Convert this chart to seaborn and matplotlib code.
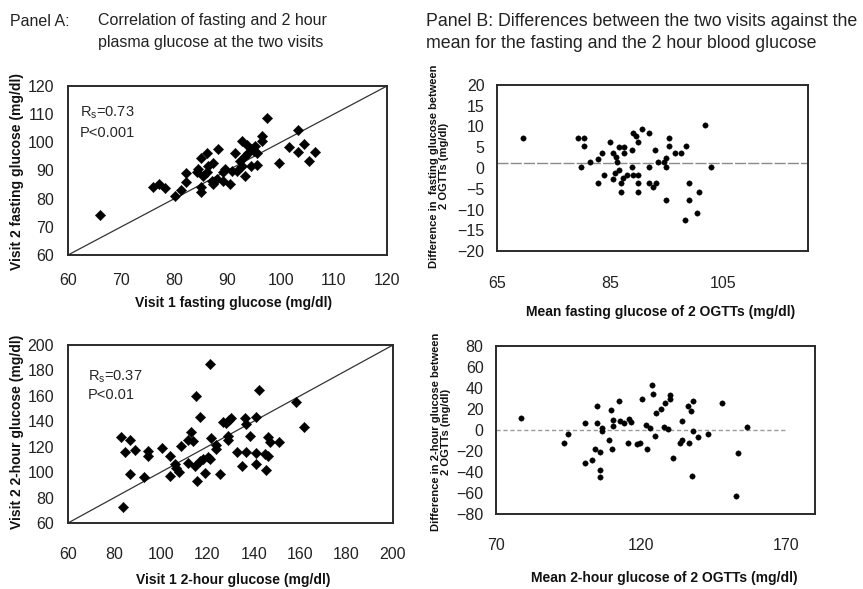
import matplotlib
matplotlib.use("Agg")
import matplotlib.pyplot as plt
import seaborn as sns
import pandas as pd

# Panel A (top): fasting glucose, visit 1 vs visit 2
visit1_fasting = [66.0, 76.0, 77.1, 78.2, 80.1, 81.2, 82.2, 82.2, 84.2, 84.5, 85.1, 85.1, 85.1,
                  86.1, 86.1, 85.4, 87.3, 87.0, 87.3, 88.3, 89.2, 89.2, 89.5, 90.5, 90.8, 91.4,
                  91.7, 92.3, 92.7, 93.3, 93.3, 93.6, 93.9, 94.5, 95.2, 95.5, 94.5, 95.5, 96.4,
                  96.4, 97.4, 99.6, 101.5, 103.3, 103.3, 104.4, 105.4, 106.5, 86.4, 88.0, 92.7, 94.9]
visit2_fasting = [74.1, 84.0, 85.2, 83.8, 81.1, 83.2, 85.8, 89.1, 89.3, 90.7, 82.3, 84.0, 94.6,
                  96.3, 89.3, 88.1, 92.8, 86.4, 85.2, 97.5, 86.4, 89.3, 90.5, 85.2, 89.9, 96.3,
                  89.9, 93.4, 100.4, 88.1, 95.2, 98.9, 96.3, 97.5, 98.7, 96.1, 91.7, 91.9, 102.2,
                  100.4, 108.7, 92.6, 98.5, 104.5, 96.6, 99.3, 93.4, 96.6, 91.7, 87.0, 91.7, 96.9]

# Panel A (bottom): 2-hour glucose, visit 1 vs visit 2
visit1_2hr = [82.7, 86.6, 84.7, 88.7, 86.6, 83.7, 92.6, 94.5, 94.5, 100.6, 103.8, 103.8, 106.0,
              106.7, 107.7, 108.8, 111.7, 113.1, 113.8, 111.7, 115.0, 114.6, 115.6, 116.7, 117.0,
              118.2, 120.3, 121.0, 121.3, 118.9, 121.7, 123.6, 123.9, 125.6, 126.8, 128.2, 129.2,
              130.4, 128.9, 128.9, 132.9, 134.9, 136.1, 136.8, 136.8, 138.3, 141.1, 141.1, 141.1,
              142.3, 144.7, 145.2, 146.2, 146.2, 147.2, 150.9, 158.4, 161.5]
visit2_2hr = [127.9, 125.2, 115.5, 117.3, 98.8, 72.4, 96.2, 116.3, 112.8, 118.9, 112.8, 97.0, 106.2,
              103.6, 100.4, 120.7, 125.2, 131.3, 124.7, 107.5, 159.6, 104.9, 93.0, 108.9, 143.7,
              110.2, 112.0, 110.2, 184.7, 99.6, 126.8, 121.5, 118.1, 98.3, 139.2, 138.4, 141.1,
              142.7, 128.7, 125.2, 115.5, 104.9, 142.7, 137.9, 115.5, 128.7, 143.7, 114.7, 106.2,
              164.3, 114.1, 101.5, 127.9, 112.8, 123.4, 123.9, 155.1, 135.3]

# Panel B (top): Bland-Altman for fasting glucose
mean_fasting = [69.6, 79.4, 80.4, 80.4, 79.9, 81.5, 82.9, 83.5, 82.9, 84.0, 84.9, 85.5, 85.5, 85.9,
                86.1, 86.3, 86.5, 86.5, 86.9, 86.9, 87.2, 87.4, 87.4, 88.0, 88.9, 88.9, 89.0, 89.0,
                89.6, 89.9, 89.9, 89.9, 89.9, 90.6, 91.9, 91.9, 91.9, 92.5, 93.1, 93.0, 93.5, 94.5,
                94.8, 94.9, 94.9, 95.5, 95.5, 96.4, 97.5, 98.5, 98.3, 98.9, 98.9, 100.4, 100.8,
                101.8, 102.9]
diff_fasting = [7.2, 7.2, 7.2, 5.2, 0.2, 1.4, 2.2, 3.5, -3.7, -1.7, 6.3, 3.5, -2.7, -1.3, 2.6, 1.5,
                -0.5, 5.1, -3.7, -5.7, -2.5, 5.1, 3.5, -1.7, 4.3, 0.3, 8.4, -1.7, 7.6, 6.3, -1.7,
                -3.7, -5.7, 9.4, 8.4, 0.2, -3.7, -4.5, -3.7, 4.3, 1.4, 1.4, 2.3, 0.2, -7.7, 7.2,
                5.2, 3.5, 3.5, 5.2, -12.5, -3.7, -7.7, -10.8, -5.7, 10.4, 0.3]
fasting_mean_diff = 1.1

# Panel B (bottom): Bland-Altman for 2-hour glucose
mean_2hr = [78.5, 93.4, 94.9, 100.8, 100.6, 103.2, 104.2, 104.9, 104.9, 106.0, 106.0, 105.7, 106.5,
            106.5, 108.8, 109.6, 110.1, 110.3, 110.3, 112.4, 112.8, 114.0, 115.5, 115.8, 116.6,
            118.7, 119.5, 120.4, 121.8, 122.1, 123.1, 123.8, 124.3, 124.9, 125.2, 126.9, 128.1,
            128.4, 129.3, 130.0, 130.0, 130.9, 133.5, 134.0, 134.1, 136.1, 136.4, 137.2, 137.5,
            138.0, 138.0, 139.5, 143.0, 148.1, 153.3, 152.7, 156.7]
diff_2hr = [11.3, -12.6, -3.7, 6.8, -31.4, -28.2, -18.0, 22.8, 6.8, -21.2, -37.7, -45.1, 1.8, -0.5,
            -9.4, 18.9, -18.0, 10.0, 3.7, 27.9, 8.1, 6.8, -12.3, 10.7, 7.5, -13.2, -12.3, 29.1, 4.9,
            -18.0, 1.8, 42.5, 33.9, -5.9, 16.4, 20.2, 3.0, 26.0, 0.5, 29.8, 33.0, -26.9, -12.6, 8.4,
            -9.4, 22.8, -12.6, 17.7, -44.1, 27.2, -0.5, -6.2, -3.7, 26.0, -21.8, -62.6, 3.3]
two_hr_mean_diff = 0.0

sns.set_style("white")
plt.rcParams['font.family'] = ['Liberation Sans', 'DejaVu Sans']
plt.rcParams['mathtext.default'] = 'regular'

W, H = 863, 589
fig = plt.figure(figsize=(W / 100, H / 100), dpi=100)


def px_axes(left, top, right, bottom):
    return fig.add_axes([left / W, 1 - bottom / H, (right - left) / W, (bottom - top) / H])


def style_box(ax):
    for s in ax.spines.values():
        s.set_color('#2a2a2a')
        s.set_linewidth(1.4)
        s.set_visible(True)


tick_kw = dict(labelsize=11.5, colors='#222222', length=3, width=0.6)
lab_kw = dict(fontsize=10, fontweight='bold', color='#111111')
ba_lab_kw = dict(fontsize=8, fontweight='bold', color='#111111', linespacing=1.0)

# ---- Panel A top
ax1 = px_axes(68, 86, 387, 255)
df1 = pd.DataFrame({'v1': visit1_fasting, 'v2': visit2_fasting})
ax1.plot([60, 120], [60, 120], color='#333333', lw=0.9)
sns.scatterplot(data=df1, x='v1', y='v2', marker='D', s=28, color='black', edgecolor='black',
                linewidth=0.3, ax=ax1, zorder=3)
ax1.set_xlim(60, 120)
ax1.set_ylim(60, 120)
ax1.set_xticks(range(60, 121, 10))
ax1.set_yticks(range(60, 121, 10))
ax1.tick_params(axis='x', pad=10, **tick_kw)
ax1.tick_params(axis='y', pad=7, **tick_kw)
ax1.set_xlabel('Visit 1 fasting glucose (mg/dl)', **lab_kw)
ax1.set_ylabel('Visit 2 fasting glucose (mg/dl)', **lab_kw)
ax1.xaxis.set_label_coords(0.52, -0.284)
ax1.yaxis.set_label_coords(-0.16, 0.497)
ax1.text(0.038, 0.84, 'R$_s$=0.73', transform=ax1.transAxes, fontsize=10.5, va='center')
ax1.text(0.038, 0.722, 'P<0.001', transform=ax1.transAxes, fontsize=10.5, va='center')
style_box(ax1)

# ---- Panel A bottom
ax2 = px_axes(68, 345, 393, 523)
df2 = pd.DataFrame({'v1': visit1_2hr, 'v2': visit2_2hr})
ax2.plot([60, 200], [60, 200], color='#333333', lw=0.9)
sns.scatterplot(data=df2, x='v1', y='v2', marker='D', s=28, color='black', edgecolor='black',
                linewidth=0.3, ax=ax2, zorder=3)
ax2.set_xlim(60, 200)
ax2.set_ylim(60, 200)
ax2.set_xticks(range(60, 201, 20))
ax2.set_yticks(range(60, 201, 20))
ax2.tick_params(axis='x', pad=14, **tick_kw)
ax2.tick_params(axis='y', pad=7, **tick_kw)
ax2.set_xlabel('Visit 1 2-hour glucose (mg/dl)', **lab_kw)
ax2.set_ylabel('Visit 2 2-hour glucose (mg/dl)', **lab_kw)
ax2.xaxis.set_label_coords(0.508, -0.32)
ax2.yaxis.set_label_coords(-0.157, 0.511)
ax2.text(0.062, 0.82, 'R$_s$=0.37', transform=ax2.transAxes, fontsize=10.5, va='center')
ax2.text(0.062, 0.719, 'P<0.01', transform=ax2.transAxes, fontsize=10.5, va='center')
style_box(ax2)

# ---- Panel B top
ax3 = px_axes(497, 85, 808, 251)
df3 = pd.DataFrame({'m': mean_fasting, 'd': diff_fasting})
ax3.axhline(fasting_mean_diff, color='#8a8a8a', lw=1.0, ls=(0, (8, 1.5)))
sns.scatterplot(data=df3, x='m', y='d', marker='o', s=15, color='black', edgecolor='black',
                linewidth=0.3, ax=ax3, zorder=3)
ax3.set_xlim(65, 120)
ax3.set_ylim(-20, 20)
ax3.set_xticks([65, 85, 105])
ax3.set_yticks(range(-20, 21, 5))
ax3.tick_params(axis='x', pad=18, length=0, labelsize=11.5, colors='#222222')
ax3.tick_params(axis='y', pad=6, **tick_kw)
ax3.set_xlabel('Mean fasting glucose of 2 OGTTs (mg/dl)', **lab_kw)
ax3.set_ylabel('Difference in  fasting glucose between\n2 OGTTs (mg/dl)', **ba_lab_kw)
ax3.xaxis.set_label_coords(0.525, -0.367)
ax3.yaxis.set_label_coords(-0.187, 0.512)
style_box(ax3)

# ---- Panel B bottom
ax4 = px_axes(496, 346, 815, 514)
df4 = pd.DataFrame({'m': mean_2hr, 'd': diff_2hr})
ax4.hlines(two_hr_mean_diff, 70, 170, color='#999999', lw=1.0, ls=(0, (3, 2)))
sns.scatterplot(data=df4, x='m', y='d', marker='o', s=15, color='black', edgecolor='black',
                linewidth=0.3, ax=ax4, zorder=3)
ax4.set_xlim(70, 180)
ax4.set_ylim(-80, 80)
ax4.set_xticks([70, 120, 170])
ax4.set_yticks(range(-80, 81, 20))
ax4.tick_params(axis='x', pad=17, length=0, labelsize=11.5, colors='#222222')
ax4.tick_params(axis='y', pad=6, **tick_kw)
ax4.set_xlabel('Mean 2-hour glucose of 2 OGTTs (mg/dl)', **lab_kw)
ax4.set_ylabel('Difference in 2-hour glucose between\n2 OGTTs (mg/dl)', **ba_lab_kw)
ax4.xaxis.set_label_coords(0.527, -0.381)
ax4.yaxis.set_label_coords(-0.172, 0.488)
style_box(ax4)

for ax in (ax1, ax2, ax3, ax4):
    ax.xaxis.label.set_va('center')
    ax.yaxis.label.set_va('center')

# ---- headers
hdr_a = dict(fontsize=11.5, color='#222222', va='center')
hdr_b = dict(fontsize=12.8, color='#222222', va='center')
fig.text(10 / W, 1 - 21 / H, 'Panel A:', **hdr_a)
fig.text(98 / W, 1 - 21 / H, 'Correlation of fasting and 2 hour', **hdr_a)
fig.text(98 / W, 1 - 43 / H, 'plasma glucose at the two visits', **hdr_a)
fig.text(426 / W, 1 - 21 / H, 'Panel B: Differences between the two visits against the', **hdr_b)
fig.text(426 / W, 1 - 43 / H, 'mean for the fasting and the 2 hour blood glucose', **hdr_b)

fig.savefig('out.png', dpi=100)
